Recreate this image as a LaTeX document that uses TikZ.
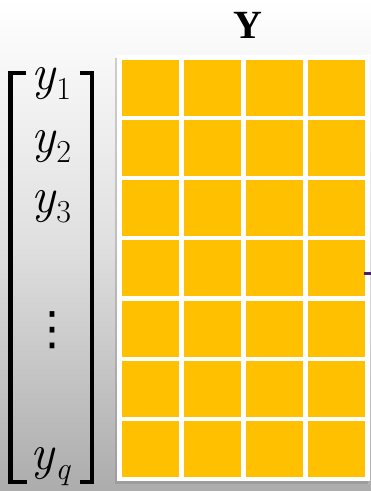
\documentclass[tikz,border=0pt]{standalone}
\usepackage{fontspec}
\newfontfamily\headfont{Liberation Serif}
\newfontfamily\symfont{DejaVu Sans}
\usetikzlibrary{shadows}

\definecolor{cellorange}{HTML}{FFC000}
\definecolor{tickpurple}{HTML}{4B1F6F}

% entry y with subscript, set in text fonts so that it scales
\newcommand{\yent}[1]{\textit{y}\raisebox{-0.2em}{\fontsize{32}{32}\selectfont #1}}

\tikzset{
  entry/.style={font=\fontsize{50}{54}\selectfont, inner sep=0pt},
  cell/.style={fill=cellorange},
  bracket/.style={line width=4.5pt, line cap=butt, line join=miter}
}

\begin{document}
\begin{tikzpicture}[x=1pt, y=-1pt]
  \def\cellw{57}
  \def\cellh{56}
  \def\colstep{62}
  \def\rowstep{60.25}

  % Background
  \shade[top color=white, bottom color=gray!65, middle color=gray!25] (0,0) rectangle (371,491);
  \useasboundingbox (0,0) rectangle (371,491);

  % Frame and cells
  \fill[white, drop shadow={shadow xshift=-2pt, shadow yshift=-3pt, opacity=0.35}]
    (117,55) rectangle (370,481);
  \foreach \i in {0,...,3}
    \foreach \j in {0,...,6}
      \fill[cell] ({121.7+\i*\colstep},{59.5+\j*\rowstep}) rectangle +(\cellw,\cellh);

  % Title
  \node[font=\headfont\bfseries\fontsize{40}{48}\selectfont, inner sep=0pt] (ytitle) at (247.5,25.5) {Y};

  % Vector entries
  \node[entry] (y1) at (51,84) {\yent{1}};
  \node[entry] (y2) at (51,147) {\yent{2}};
  \node[entry] (y3) at (51,207) {\yent{3}};
  \node[font=\symfont\fontsize{46}{46}\selectfont, inner sep=0pt] (ydots) at (52,330) {⋮};
  \node[entry] (yq) at (50,467) {\textit{y}\raisebox{-0.2em}{\fontsize{32}{32}\selectfont\itshape q}};

  % Brackets
  \draw[bracket] (26,73) -- (10.5,73) -- (10.5,482) -- (27,482);
  \draw[bracket] (80,73) -- (92,73) -- (92,482) -- (80,482);

  % Cut-off mark at the right edge
  \draw[tickpurple, line width=3.5pt] (364,273.5) -- (371,273.5);
\end{tikzpicture}
\end{document}
